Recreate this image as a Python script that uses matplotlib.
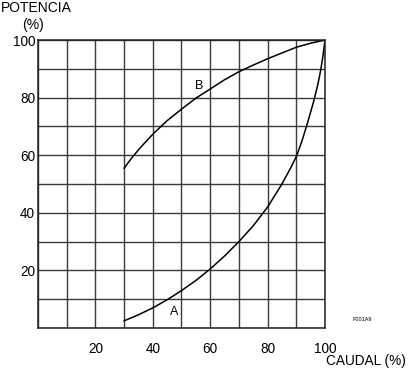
import matplotlib
matplotlib.use('Agg')
import matplotlib.pyplot as plt

plt.rcParams['font.family'] = ['Liberation Sans', 'DejaVu Sans']

# curve B (upper)
xB = [30, 33, 36, 40, 45, 50, 55, 60, 65, 70, 75, 80, 85, 90, 95, 100]
yB = [55.5, 59.5, 63, 67.3, 72, 76, 79.8, 83, 86.2, 89, 91.3, 93.5, 95.5, 97.5, 98.9, 100]

# curve A (lower)
xA = [30, 35, 40, 45, 50, 55, 60, 65, 70, 75, 80, 85, 88, 90, 92, 94, 96, 97.5, 98.5, 99.3, 100]
yA = [2.5, 4.6, 7, 9.8, 13, 16.5, 20.5, 25, 30, 35.5, 42, 50, 55.5, 59.5, 65, 71.5, 78.5, 84.5, 89.5, 94.5, 100]

ticks = list(range(0, 101, 10))
tick_labels = ['', '', '20', '', '40', '', '60', '', '80', '', '100']

fig = plt.figure(figsize=(4.08, 3.69), dpi=100)
ax = fig.add_axes([0.0931, 0.111, 0.7034, 0.7805])

ax.set_xlim(0, 100)
ax.set_ylim(0, 100)

ax.set_xticks(ticks)
ax.set_yticks(ticks)
ax.set_xticklabels(tick_labels)
ax.set_yticklabels(tick_labels)
ax.tick_params(length=0, labelsize=9.8, colors='black')
ax.tick_params(axis='x', pad=10)
ax.tick_params(axis='y', pad=2)
ax.grid(True, color='#3a3a3a', linewidth=1)

for s in ax.spines.values():
    s.set_color('#222222')
    s.set_linewidth(1.1)

ax.plot(xB, yB, color='black', linewidth=1.1)
ax.plot(xA, yA, color='black', linewidth=1.1)

ax.text(56, 84, 'B', fontsize=9, ha='center', va='center')
ax.text(47.3, 5.5, 'A', fontsize=9, ha='center', va='center')

fig.text(0.002, 0.977, 'POTENCIA', fontsize=10, ha='left', va='center')
fig.text(0.082, 0.933, '(%)', fontsize=10, ha='center', va='center')
fig.text(0.995, 0.022, 'CAUDAL (%)', fontsize=9.8, ha='right', va='center')
fig.text(0.888, 0.133, 'F001A9', fontsize=4, ha='center', va='center')

fig.savefig('out.png', dpi=100)
